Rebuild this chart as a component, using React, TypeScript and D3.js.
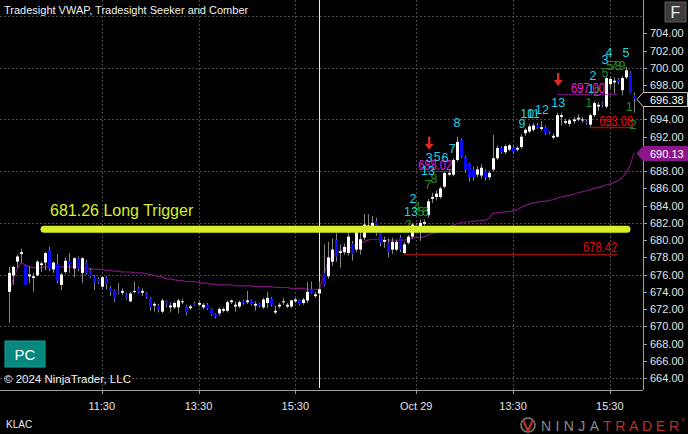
import * as d3 from "d3";
import { useEffect, useRef } from "react";

// open, high, low, close
type Bar = [number, number, number, number];

const oct28Bars: Bar[] = [
	[674.0, 676.9, 670.4, 676.2], [675.9, 677.0, 674.8, 676.9], [677.5, 678.3, 676.8, 678.1], [678.4, 679.0, 677.4, 678.6],
	[677.0, 677.1, 674.8, 674.8], [675.8, 677.0, 675.0, 676.0], [675.6, 676.2, 674.0, 675.8], [675.9, 677.7, 675.8, 677.5],
	[677.1, 677.5, 676.3, 677.3], [677.4, 678.6, 676.5, 678.5], [678.8, 679.2, 676.4, 676.7], [676.6, 677.5, 676.2, 677.4],
	[677.2, 678.4, 675.0, 675.3], [674.8, 676.2, 674.2, 676.0], [676.3, 678.0, 676.1, 677.6], [677.6, 678.5, 676.2, 677.2],
	[676.7, 678.0, 675.7, 677.9], [677.9, 678.1, 676.4, 676.7], [676.2, 678.0, 675.0, 677.9], [677.4, 677.7, 676.0, 676.2],
	[676.5, 676.7, 675.6, 675.8], [675.8, 676.0, 674.2, 675.0], [675.5, 675.7, 674.9, 675.1], [674.6, 675.8, 674.2, 675.7],
	[675.6, 675.8, 674.3, 674.9], [674.5, 674.7, 673.5, 674.0], [674.2, 674.3, 672.8, 673.2], [674.1, 675.0, 673.7, 673.9],
	[673.9, 674.4, 673.6, 674.1], [673.7, 673.9, 673.1, 673.3], [672.9, 674.0, 672.8, 673.8], [674.0, 675.2, 673.8, 674.1],
	[674.4, 674.6, 673.8, 673.9], [673.9, 674.4, 673.5, 674.1], [673.9, 674.0, 673.2, 673.4], [673.3, 673.4, 671.8, 672.2],
	[672.4, 672.8, 671.7, 672.6], [672.4, 672.6, 671.6, 671.9], [671.7, 673.2, 671.5, 673.0], [672.9, 673.0, 672.2, 672.5],
	[672.2, 672.8, 671.6, 672.4], [672.2, 672.9, 672.0, 672.7], [672.2, 673.2, 671.5, 673.0], [672.8, 673.2, 672.6, 672.9],
	[672.3, 672.5, 671.3, 671.6], [672.1, 672.5, 671.9, 672.3], [672.7, 672.9, 672.4, 672.5], [672.5, 672.9, 672.3, 672.7],
	[672.2, 672.7, 672.0, 672.5], [672.5, 672.7, 671.9, 672.1], [672.0, 672.1, 671.2, 671.4], [671.4, 671.5, 670.9, 671.1],
	[671.5, 672.2, 671.2, 672.0], [671.8, 672.2, 671.6, 672.0], [671.8, 673.0, 671.6, 672.8], [672.8, 673.1, 672.6, 673.0],
	[672.3, 672.9, 671.7, 672.5], [672.3, 673.0, 672.1, 672.8], [672.9, 673.1, 672.5, 672.7], [672.8, 674.1, 672.6, 673.0],
	[673.0, 673.1, 672.4, 672.6], [672.4, 672.9, 671.8, 672.6], [672.6, 672.7, 672.2, 672.4], [672.2, 673.3, 672.0, 673.1],
	[672.7, 674.0, 672.1, 673.3], [673.2, 673.4, 672.3, 672.5], [671.6, 672.4, 671.4, 671.8], [672.3, 672.7, 672.1, 672.5],
	[672.8, 673.3, 672.5, 672.9], [672.3, 672.7, 672.1, 672.5], [672.3, 673.1, 672.1, 673.0], [672.9, 673.3, 672.7, 673.1],
	[673.0, 673.1, 672.4, 672.6], [672.7, 673.3, 672.5, 673.1], [673.0, 675.1, 672.7, 674.0], [674.3, 675.2, 673.8, 673.9],
	[673.5, 674.0, 673.3, 673.7], [673.8, 675.2, 673.6, 674.3],
];

const oct29Bars: Bar[] = [
	[676.2, 679.5, 674.6, 674.7], [675.8, 679.8, 675.5, 678.0], [677.5, 680.2, 677.0, 678.9], [680.0, 680.8, 677.5, 678.1],
	[678.5, 679.5, 676.8, 678.7], [678.6, 679.6, 678.3, 679.2], [678.5, 681.2, 678.2, 680.4], [679.6, 679.9, 677.6, 678.4],
	[678.9, 681.3, 678.6, 680.9], [678.9, 681.6, 678.3, 680.1], [680.3, 683.0, 680.0, 681.8], [681.6, 683.0, 681.2, 681.7],
	[681.6, 682.8, 681.0, 682.0], [682.2, 682.6, 680.5, 680.8], [680.9, 681.2, 679.3, 679.7], [679.8, 680.4, 679.1, 680.0],
	[679.7, 680.2, 678.0, 678.6], [678.9, 680.3, 678.4, 679.8], [678.9, 680.0, 678.7, 679.8], [680.3, 680.6, 678.6, 678.9],
	[678.5, 679.8, 678.42, 679.5], [679.7, 680.6, 679.5, 680.4], [680.4, 682.0, 680.2, 681.8], [681.8, 682.0, 681.1, 681.3],
	[681.6, 682.4, 679.9, 682.0], [681.9, 682.4, 681.7, 682.1], [682.9, 684.8, 682.6, 684.5], [684.8, 685.5, 684.3, 685.0],
	[685.0, 685.8, 684.6, 685.4], [685.0, 686.2, 684.8, 686.0], [686.2, 688.0, 686.0, 687.8], [687.6, 688.1, 687.4, 687.8],
	[687.6, 689.5, 687.4, 689.3], [689.3, 692.0, 689.1, 691.4], [691.6, 691.8, 689.5, 689.7], [689.6, 689.8, 687.8, 688.2],
	[688.9, 689.0, 686.8, 687.3], [688.2, 688.5, 686.9, 687.3], [687.6, 688.6, 687.3, 688.2], [687.5, 688.8, 687.1, 688.4],
	[688.0, 688.2, 686.9, 687.3], [687.3, 688.0, 687.0, 687.8], [688.2, 692.2, 688.0, 689.5], [689.5, 691.0, 689.3, 690.7],
	[690.7, 690.9, 690.0, 690.2], [690.2, 691.1, 690.0, 690.9], [690.5, 691.2, 690.3, 691.0], [690.8, 691.0, 690.0, 690.2],
	[690.5, 690.9, 690.3, 690.7], [690.8, 692.3, 690.6, 692.0], [692.4, 693.0, 692.1, 692.8], [692.6, 693.5, 692.4, 693.2],
	[692.8, 693.6, 692.6, 693.3], [693.3, 693.6, 692.9, 693.1], [692.9, 693.8, 692.7, 693.1], [693.1, 693.3, 692.2, 692.4],
	[692.6, 692.7, 692.3, 692.5], [691.9, 692.4, 691.7, 692.1], [692.0, 694.8, 691.9, 694.5], [694.3, 694.8, 693.3, 694.5],
	[693.6, 694.1, 693.4, 693.8], [693.5, 694.1, 693.2, 693.9], [693.8, 694.3, 693.5, 694.0], [694.0, 694.6, 693.8, 694.2],
	[693.9, 694.3, 693.6, 694.0], [693.8, 694.0, 693.4, 693.6], [693.4, 694.7, 693.08, 694.5], [694.5, 696.1, 694.3, 695.9],
	[695.5, 696.0, 695.0, 695.7], [695.9, 696.1, 695.4, 695.7], [695.5, 699.0, 695.3, 698.8], [698.1, 699.0, 697.6, 698.7],
	[698.3, 698.9, 697.0, 698.5], [698.6, 698.8, 698.1, 698.3], [697.4, 699.0, 696.8, 698.8], [698.9, 700.1, 698.7, 699.7],
	[699.4, 699.6, 697.0, 697.1], [696.8, 697.1, 694.8, 696.38],
];

const oct28Vwap = [
	673.9, 675.4, 676.6, 677.4, 677.1, 676.9, 676.8, 676.8, 676.8, 676.9, 676.9, 676.9, 676.9, 676.9, 676.9, 676.9,
	676.9, 676.9, 676.8, 676.7, 676.7, 676.6, 676.6, 676.6, 676.5, 676.5, 676.4, 676.4, 676.3, 676.3, 676.3, 676.2,
	676.2, 676.2, 676.1, 676.0, 675.9, 675.8, 675.7, 675.5, 675.5, 675.4, 675.3, 675.3, 675.2, 675.2, 675.2, 675.1,
	675.0, 675.0, 674.9, 674.9, 674.8, 674.8, 674.8, 674.8, 674.7, 674.7, 674.7, 674.7, 674.7, 674.6, 674.6, 674.6,
	674.6, 674.6, 674.5, 674.5, 674.5, 674.5, 674.4, 674.4, 674.4, 674.4, 674.3, 674.3, 674.3, 674.3,
];

const oct29Vwap = [
	675.9, 677.3, 678.0, 678.5, 678.7, 678.9, 679.1, 679.2, 679.4, 679.6, 679.8, 680.0, 680.1, 680.1, 680.1, 680.0,
	680.0, 680.0, 680.0, 680.0, 680.0, 680.1, 680.2, 680.3, 680.3, 680.4, 680.6, 680.8, 680.9, 681.0, 681.2, 681.4,
	681.7, 681.9, 682.0, 682.1, 682.1, 682.2, 682.2, 682.3, 682.3, 682.5, 683.1, 683.2, 683.2, 683.3, 683.3, 683.4,
	683.5, 683.8, 684.0, 684.2, 684.3, 684.4, 684.5, 684.5, 684.6, 684.7, 684.9, 685.0, 685.1, 685.2, 685.3, 685.5,
	685.6, 685.7, 685.8, 686.0, 686.1, 686.2, 686.4, 686.5, 686.7, 686.9, 687.2, 687.8, 688.6, 690.13,
];

const timeTicks = [
	{ bar: 23, label: "11:30" },
	{ bar: 47, label: "13:30" },
	{ bar: 71, label: "15:30" },
	{ bar: 101, label: "Oct 29" },
	{ bar: 125, label: "13:30" },
	{ bar: 149, label: "15:30" },
];
const priceTicks = [664, 666, 668, 670, 672, 674, 676, 678, 680, 682, 684, 686, 688, 690, 692, 694, 696, 698, 700, 702, 704];
const gridPrices = [664, 670, 676, 682, 688, 694, 700, 706];

const longTrigger = 681.26;
const lastPrice = 696.38;
const lastVwap = 690.13;

const redLevels = [
	{ price: 678.42, from: 98, to: 151, labelBar: 150.8 },
	{ price: 693.08, from: 144, to: 155, labelBar: 154.8 },
];
const magentaLevels = [
	{ price: 697.0, from: 136, to: 151, labelBar: 147.8 },
	{ price: 688.02, from: 102, to: 110, labelBar: 109.9 },
];
const sellArrows = [
	{ bar: 104.2, price: 692.0 },
	{ bar: 136.2, price: 699.4 },
];

// label, colour key, bar, price
const counts: [string, string, number, number][] = [
	["8", "g", 105.4, 687.2], ["7", "g", 103.9, 686.5], ["4", "g", 101.2, 683.9], ["5", "g", 102.2, 683.3],
	["6", "g", 103.2, 683.3], ["2", "g", 99.0, 681.8], ["2", "g", 145.8, 697.3], ["1", "g", 143.8, 696.0],
	["5", "g", 147.8, 699.5], ["5", "g", 149.0, 700.3], ["7", "g", 150.0, 700.3], ["8", "g", 151.0, 700.3],
	["9", "g", 152.0, 700.3], ["1", "g", 153.8, 695.45], ["2", "g", 154.8, 693.4],
	["8", "c", 111.1, 693.6], ["7", "c", 109.9, 690.6], ["3", "c", 104.2, 689.55], ["5", "c", 106.2, 689.7],
	["6", "c", 108.1, 689.55], ["13", "c", 103.9, 688.05], ["2", "c", 100.2, 684.8], ["13", "c", 99.7, 683.3],
	["9", "c", 127.2, 693.5], ["10", "c", 128.5, 694.75], ["11", "c", 130.0, 694.75], ["12", "c", 132.2, 695.1],
	["13", "c", 136.2, 696.0], ["2", "c", 144.8, 699.05], ["1", "c", 144.3, 697.55], ["3", "c", 147.8, 701.0],
	["4", "c", 148.8, 701.8], ["5", "c", 153.0, 701.8],
];

const FONT = "Liberation Sans, Arial, sans-serif";

function drawChart(node: SVGSVGElement) {
	const svg = d3.select(node);
	svg.selectAll("*").remove();

	const width = 688;
	const height = 434;
	const axisX = 643;
	const axisY = 390;
	const bars = [...oct28Bars, ...oct29Bars];
	const vwap = [...oct28Vwap, ...oct29Vwap];

	const x = d3.scaleLinear().domain([0, bars.length - 1]).range([9, 634]);
	const y = d3.scaleLinear().domain([664, 704]).range([378, 33.3]);

	svg.append("rect").attr("width", width).attr("height", height).attr("fill", "#000");

	// grid
	const grid = svg.append("g").attr("stroke", "#4a4a4a").attr("stroke-dasharray", "2,2");
	grid.selectAll("line.h")
		.data(gridPrices)
		.join("line")
		.attr("x1", 0)
		.attr("x2", axisX)
		.attr("y1", (d) => Math.round(y(d)) + 0.5)
		.attr("y2", (d) => Math.round(y(d)) + 0.5);
	grid.selectAll("line.v")
		.data(timeTicks)
		.join("line")
		.attr("x1", (d) => Math.round(x(d.bar)) + 0.5)
		.attr("x2", (d) => Math.round(x(d.bar)) + 0.5)
		.attr("y1", 0)
		.attr("y2", axisY);

	// session break
	svg.append("line")
		.attr("x1", Math.round(x(oct28Bars.length - 1)) + 0.5)
		.attr("x2", Math.round(x(oct28Bars.length - 1)) + 0.5)
		.attr("y1", 0)
		.attr("y2", axisY - 2)
		.attr("stroke", "#e8e8e8");

	// vwap
	const vwapLine = d3
		.line<number>()
		.x((_, i) => x(i))
		.y((d) => y(d));
	svg.append("path")
		.datum(vwap)
		.attr("d", vwapLine)
		.attr("fill", "none")
		.attr("stroke", "#7c147c")
		.attr("stroke-width", 1.2);

	// candles
	const candles = svg.append("g");
	candles.selectAll("line")
		.data(bars)
		.join("line")
		.attr("x1", (_, i) => Math.round(x(i)) + 0.5)
		.attr("x2", (_, i) => Math.round(x(i)) + 0.5)
		.attr("y1", (d) => y(d[1]))
		.attr("y2", (d) => y(d[2]))
		.attr("stroke", "#858585");
	candles.selectAll("rect")
		.data(bars)
		.join("rect")
		.attr("x", (_, i) => Math.round(x(i)) - 1)
		.attr("width", 3)
		.attr("y", (d) => y(Math.max(d[0], d[3])))
		.attr("height", (d) => Math.max(1, Math.abs(y(d[0]) - y(d[3]))))
		.attr("fill", (d) => (d[3] >= d[0] ? "#ffffff" : "#0a0aff"));

	// red levels
	redLevels.forEach((lv) => {
		svg.append("line")
			.attr("x1", x(lv.from))
			.attr("x2", x(lv.to))
			.attr("y1", Math.round(y(lv.price)) + 0.5)
			.attr("y2", Math.round(y(lv.price)) + 0.5)
			.attr("stroke", "#9a0c0c")
			.attr("stroke-width", 1.5);
		svg.append("text")
			.attr("x", x(lv.labelBar))
			.attr("y", y(lv.price) - 1.5)
			.attr("text-anchor", "end")
			.attr("font-family", FONT)
			.attr("font-size", 14)
			.attr("textLength", 34)
			.attr("lengthAdjust", "spacingAndGlyphs")
			.attr("fill", "#e00a0a")
			.text(lv.price.toFixed(2));
	});

	// magenta levels
	magentaLevels.forEach((lv) => {
		svg.append("line")
			.attr("x1", x(lv.from))
			.attr("x2", x(lv.to))
			.attr("y1", Math.round(y(lv.price)) + 0.5)
			.attr("y2", Math.round(y(lv.price)) + 0.5)
			.attr("stroke", "#b010b0")
			.attr("stroke-dasharray", "2,1");
		svg.append("text")
			.attr("x", x(lv.labelBar))
			.attr("y", y(lv.price) - 1)
			.attr("text-anchor", "end")
			.attr("font-family", FONT)
			.attr("font-size", 14)
			.attr("textLength", 34)
			.attr("lengthAdjust", "spacingAndGlyphs")
			.attr("fill", "#e81ee8")
			.text(lv.price.toFixed(2));
	});

	// seeker / comber counts
	svg.append("g")
		.selectAll("text")
		.data(counts)
		.join("text")
		.attr("x", (d) => x(d[2]))
		.attr("y", (d) => y(d[3]) + 4.5)
		.attr("text-anchor", "middle")
		.attr("font-family", FONT)
		.attr("font-size", 12.5)
		.attr("fill", (d) => (d[1] === "c" ? "#22d2e2" : "#1f8f1f"))
		.text((d) => d[0]);

	// sell arrows
	svg.append("g")
		.selectAll("path")
		.data(sellArrows)
		.join("path")
		.attr("transform", (d) => "translate(" + x(d.bar) + "," + y(d.price) + ")")
		.attr("d", "M-1.2,0 L1.2,0 L1.2,7 L4.5,7 L0,13 L-4.5,7 L-1.2,7 Z")
		.attr("fill", "#e02a2a");

	// long trigger
	svg.append("line")
		.attr("x1", 44)
		.attr("x2", 627)
		.attr("y1", y(longTrigger))
		.attr("y2", y(longTrigger))
		.attr("stroke", "#d6ee2c")
		.attr("stroke-width", 7)
		.attr("stroke-linecap", "round");
	svg.append("text")
		.attr("x", 50)
		.attr("y", 216)
		.attr("font-family", FONT)
		.attr("font-size", 16)
		.attr("fill", "#d6ee2c")
		.text(longTrigger.toFixed(2) + " Long Trigger");

	// axes
	svg.append("line")
		.attr("x1", axisX + 0.5)
		.attr("x2", axisX + 0.5)
		.attr("y1", 0)
		.attr("y2", axisY)
		.attr("stroke", "#a0a0a0");
	svg.append("line")
		.attr("x1", 0)
		.attr("x2", axisX)
		.attr("y1", axisY + 0.5)
		.attr("y2", axisY + 0.5)
		.attr("stroke", "#a0a0a0");

	// tick labels hidden behind the price markers are left out
	const visibleTicks = priceTicks.filter(
		(d) => Math.abs(y(d) - y(lastPrice)) > 12 && Math.abs(y(d) - y(lastVwap)) > 12
	);
	const yAxis = svg.append("g");
	yAxis.selectAll("line")
		.data(priceTicks)
		.join("line")
		.attr("x1", axisX)
		.attr("x2", axisX + 4)
		.attr("y1", (d) => Math.round(y(d)) + 0.5)
		.attr("y2", (d) => Math.round(y(d)) + 0.5)
		.attr("stroke", "#a0a0a0");
	yAxis.selectAll("text")
		.data(visibleTicks)
		.join("text")
		.attr("x", 650)
		.attr("y", (d) => y(d) + 4)
		.attr("font-family", FONT)
		.attr("font-size", 11)
		.attr("fill", "#e4e4e4")
		.text((d) => d.toFixed(2));

	const xAxis = svg.append("g");
	xAxis.selectAll("line")
		.data(timeTicks)
		.join("line")
		.attr("x1", (d) => Math.round(x(d.bar)) + 0.5)
		.attr("x2", (d) => Math.round(x(d.bar)) + 0.5)
		.attr("y1", axisY)
		.attr("y2", axisY + 4)
		.attr("stroke", "#a0a0a0");
	xAxis.selectAll("text")
		.data(timeTicks)
		.join("text")
		.attr("x", (d) => x(d.bar))
		.attr("y", 410)
		.attr("text-anchor", "middle")
		.attr("font-family", FONT)
		.attr("font-size", 11)
		.attr("fill", "#e4e4e4")
		.text((d) => d.label);

	// price markers
	const marker = (price: number, fill: string, stroke: string) => {
		const cy = Math.round(y(price)) + 0.5;
		svg.append("path")
			.attr("d", `M637,${cy} L643,${cy - 7} L687.5,${cy - 7} L687.5,${cy + 7} L643,${cy + 7} Z`)
			.attr("fill", fill)
			.attr("stroke", stroke);
		svg.append("text")
			.attr("x", 650)
			.attr("y", cy + 4)
			.attr("font-family", FONT)
			.attr("font-size", 11)
			.attr("fill", "#ffffff")
			.text(price.toFixed(2));
	};
	marker(lastPrice, "#000000", "#c8c8c8");
	marker(lastVwap, "#8a168a", "#8a168a");

	// title
	svg.append("text")
		.attr("x", 4)
		.attr("y", 14)
		.attr("font-family", FONT)
		.attr("font-size", 11)
		.attr("fill", "#f0f0f0")
		.text("Tradesight VWAP, Tradesight Seeker and Comber");

	// F button
	svg.append("rect")
		.attr("x", 665)
		.attr("y", 2)
		.attr("width", 21)
		.attr("height", 20)
		.attr("fill", "#3c3c3c")
		.attr("stroke", "#5a5a5a");
	svg.append("text")
		.attr("x", 675.5)
		.attr("y", 18)
		.attr("text-anchor", "middle")
		.attr("font-family", FONT)
		.attr("font-size", 16)
		.attr("fill", "#e8e8e8")
		.text("F");

	// PC badge
	svg.append("rect")
		.attr("x", 5)
		.attr("y", 341)
		.attr("width", 40)
		.attr("height", 26)
		.attr("fill", "#08877f")
		.attr("stroke", "#0aa69c");
	svg.append("text")
		.attr("x", 25)
		.attr("y", 359.5)
		.attr("text-anchor", "middle")
		.attr("font-family", FONT)
		.attr("font-size", 15)
		.attr("fill", "#ffffff")
		.text("PC");

	svg.append("text")
		.attr("x", 4)
		.attr("y", 383)
		.attr("font-family", FONT)
		.attr("font-size", 11.5)
		.attr("fill", "#f0f0f0")
		.text("\u00a9 2024 NinjaTrader, LLC");

	svg.append("text")
		.attr("x", 6)
		.attr("y", 428)
		.attr("font-family", FONT)
		.attr("font-size", 10)
		.attr("fill", "#e8e8e8")
		.text("KLAC");

	// logo
	svg.append("circle")
		.attr("cx", 528)
		.attr("cy", 425)
		.attr("r", 7)
		.attr("fill", "none")
		.attr("stroke", "#7a7a7a")
		.attr("stroke-width", 1.6);
	svg.append("path")
		.attr("d", "M523,420 L528,431 L533,420")
		.attr("fill", "none")
		.attr("stroke", "#b8322a")
		.attr("stroke-width", 2.2);
	svg.append("text")
		.attr("x", 541)
		.attr("y", 431)
		.attr("font-family", FONT)
		.attr("font-size", 14)
		.attr("textLength", 58)
		.attr("lengthAdjust", "spacing")
		.attr("fill", "#8a8a8a")
		.text("NINJA");
	svg.append("text")
		.attr("x", 603)
		.attr("y", 431)
		.attr("font-family", FONT)
		.attr("font-size", 14)
		.attr("textLength", 76)
		.attr("lengthAdjust", "spacing")
		.attr("fill", "#b8322a")
		.text("TRADER");
	svg.append("text")
		.attr("x", 681)
		.attr("y", 422)
		.attr("font-family", FONT)
		.attr("font-size", 6)
		.attr("fill", "#b8322a")
		.text("\u00ae");
}

function App() {
	const ref = useRef<SVGSVGElement>(null);
	useEffect(() => {
		if (ref.current) drawChart(ref.current);
	}, []);
	return (
		<svg
			ref={ref}
			width={688}
			height={434}
			style={{ position: "absolute", left: 0, top: 0, display: "block", background: "#000" }}
		/>
	);
}

export default App;
